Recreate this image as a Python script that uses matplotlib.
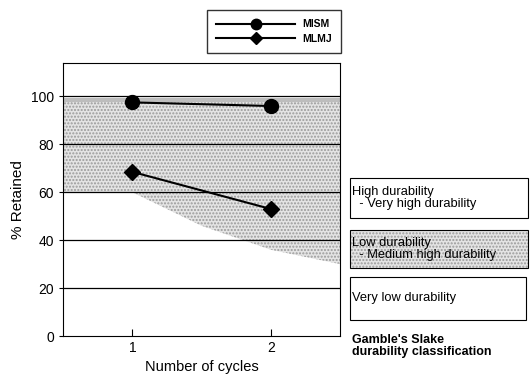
import numpy as np
import matplotlib
matplotlib.use("Agg")
import matplotlib.pyplot as plt
from matplotlib.patches import Rectangle

plt.rcParams['font.family'] = ['Liberation Sans', 'DejaVu Sans']

cycles = [1, 2]
m_ism = [97.5, 96]
m_lmj = [68.5, 53]

# lower edge of the shaded "low durability" zone
zone_x = [0.5, 1.0, 1.5, 2.0, 2.5]
zone_lo = [60, 60, 46, 36, 30]
zone_hi = [99, 99, 99, 99, 99]

grid_levels = [20, 40, 60, 80, 100]
yticks = [0, 20, 40, 60, 80, 100]

fig = plt.figure(figsize=(5.3, 3.81), dpi=100)
ax = fig.add_axes([0.119, 0.118, 0.523, 0.717])

ax.fill_between(zone_x, zone_lo, zone_hi, facecolor='#e4e4e4',
                edgecolor='#9a9a9a', hatch='.....', linewidth=0, zorder=0)
ax.axhspan(97.5, 99.5, color='#bdbdbd', lw=0, zorder=0.5)
for g in grid_levels:
    ax.axhline(g, color='black', lw=0.9, zorder=1)

ax.plot(cycles, m_ism, '-o', color='black', ms=10, lw=1.5, label='MISM', zorder=3)
ax.plot(cycles, m_lmj, '-D', color='black', ms=8, lw=1.5, label='MLMJ', zorder=3)

ax.set_xlim(0.5, 2.5)
ax.set_ylim(0, 114)
ax.set_xticks(cycles)
ax.set_yticks(yticks)
ax.tick_params(axis='x', direction='in', length=5, labelsize=10)
ax.tick_params(axis='y', direction='out', length=3, labelsize=10)
ax.set_xlabel('Number of cycles', fontsize=10.5)
ax.set_ylabel('% Retained', fontsize=11)

leg = fig.legend(loc='upper right', bbox_to_anchor=(341 / 530, 1 - 10 / 381), frameon=True,
                 fancybox=False, edgecolor='black',
                 prop={'weight': 'bold', 'size': 7.5}, handlelength=7.5,
                 markerscale=0.75, borderpad=0.9, labelspacing=0.45,
                 handletextpad=0.7, borderaxespad=0)
leg.get_frame().set_linewidth(1.0)

# classification boxes on the right
fig.patches.append(Rectangle((350 / 530, 1 - 218 / 381), 178 / 530, 40 / 381,
                             transform=fig.transFigure, fill=False, lw=0.8, ec='black'))
fig.patches.append(Rectangle((350 / 530, 1 - 268 / 381), 178 / 530, 38 / 381,
                             transform=fig.transFigure, facecolor='#e4e4e4',
                             edgecolor='#9a9a9a', hatch='.....', lw=0))
fig.patches.append(Rectangle((350 / 530, 1 - 268 / 381), 178 / 530, 38 / 381,
                             transform=fig.transFigure, fill=False, lw=0.8, ec='black'))
fig.patches.append(Rectangle((350 / 530, 1 - 320 / 381), 176 / 530, 43 / 381,
                             transform=fig.transFigure, fill=False, lw=0.8, ec='black'))

fig.text(352 / 530, 1 - 198 / 381, 'High durability\n  - Very high durability',
         fontsize=9.3, va='center', ha='left', linespacing=1.1)
fig.text(352 / 530, 1 - 249 / 381, 'Low durability\n  - Medium high durability',
         fontsize=9.3, va='center', ha='left', linespacing=1.1)
fig.text(352 / 530, 1 - 298 / 381, 'Very low durability',
         fontsize=9.3, va='center', ha='left')
fig.text(352 / 530, 1 - 346 / 381, "Gamble's Slake\ndurability classification",
         fontsize=9, fontweight='bold', va='center', ha='left', linespacing=1.1)

fig.savefig('out.png', dpi=100)
